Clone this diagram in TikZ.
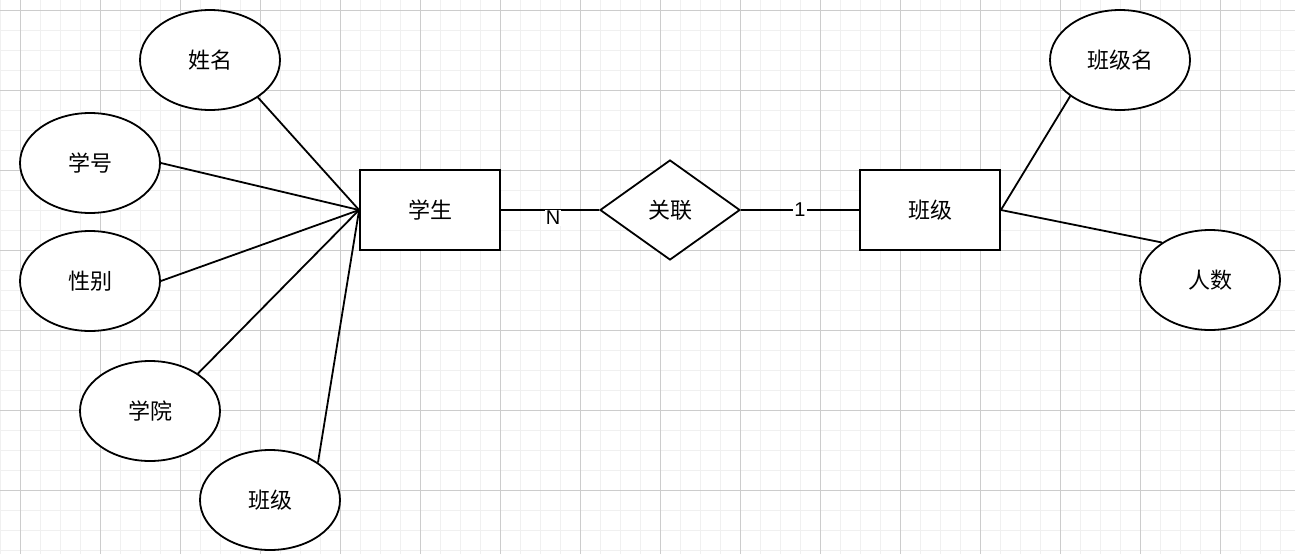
\documentclass[tikz,border=0pt]{standalone}
\usepackage{fontspec}
\setmainfont{Noto Sans CJK SC}
\newfontfamily\latinfont{Liberation Sans}
\usetikzlibrary{shapes.geometric}

\tikzset{
  gridminor/.style={draw=black!6, line width=1pt},
  gridmajor/.style={draw=black!20, line width=1pt},
  entity/.style={draw, fill=white, line width=1.8pt, minimum width=140pt, minimum height=80pt, inner sep=0pt},
  attrib/.style={draw, fill=white, ellipse, line width=1.8pt, minimum width=140pt, minimum height=100pt, inner sep=0pt},
  relation/.style={draw, fill=white, diamond, line width=1.8pt, minimum width=140pt, minimum height=100pt, inner sep=0pt},
  link/.style={line width=1.8pt},
  card/.style={fill=white, inner sep=1pt, font=\latinfont\fontsize{20}{24}\selectfont}
}

\begin{document}
\begin{tikzpicture}[x=1pt, y=-1pt, font=\fontsize{22}{26}\selectfont]
    \useasboundingbox (0,0) rectangle (1295,554);
    \fill[white] (0,0) rectangle (1295,554);

    % Background grid
    \foreach \x in {0,20,...,1280} \draw[gridminor] (\x,0) -- (\x,554);
    \foreach \y in {10,30,...,550} \draw[gridminor] (0,\y) -- (1295,\y);
    \foreach \x in {20,100,...,1260} \draw[gridmajor] (\x,0) -- (\x,554);
    \foreach \y in {10,90,...,490} \draw[gridmajor] (0,\y) -- (1295,\y);

    % Entities and relation
    \node[entity] (stu) at (430,210) {学生};
    \node[relation] (rel) at (670,210) {关联};
    \node[entity] (cls) at (930,210) {班级};

    % Attributes of student
    \node[attrib] (xm) at (210,60) {姓名};
    \node[attrib] (xh) at (90,163) {学号};
    \node[attrib] (xb) at (90,281) {性别};
    \node[attrib] (xy) at (150,411) {学院};
    \node[attrib] (bj) at (270,500) {班级};

    % Attributes of class
    \node[attrib] (bjm) at (1120,60) {班级名};
    \node[attrib] (rs) at (1210,280) {人数};

    % Attribute links
    \draw[link] (stu.west) -- (xm.-38);
    \draw[link] (stu.west) -- (xh.east);
    \draw[link] (stu.west) -- (xb.east);
    \draw[link] (stu.west) -- (xy.38);
    \draw[link] (stu.west) -- (bj.38);
    \draw[link] (cls.east) -- (bjm.216);
    \draw[link] (cls.east) -- (rs.142);

    % Relation links
    \draw[link] (stu.east) -- (rel.west);
    \draw[link] (rel.east) -- (cls.west);
    \node[card] (nn) at (553,218) {N};
    \node[card] (one) at (800,210) {1};
\end{tikzpicture}
\end{document}
